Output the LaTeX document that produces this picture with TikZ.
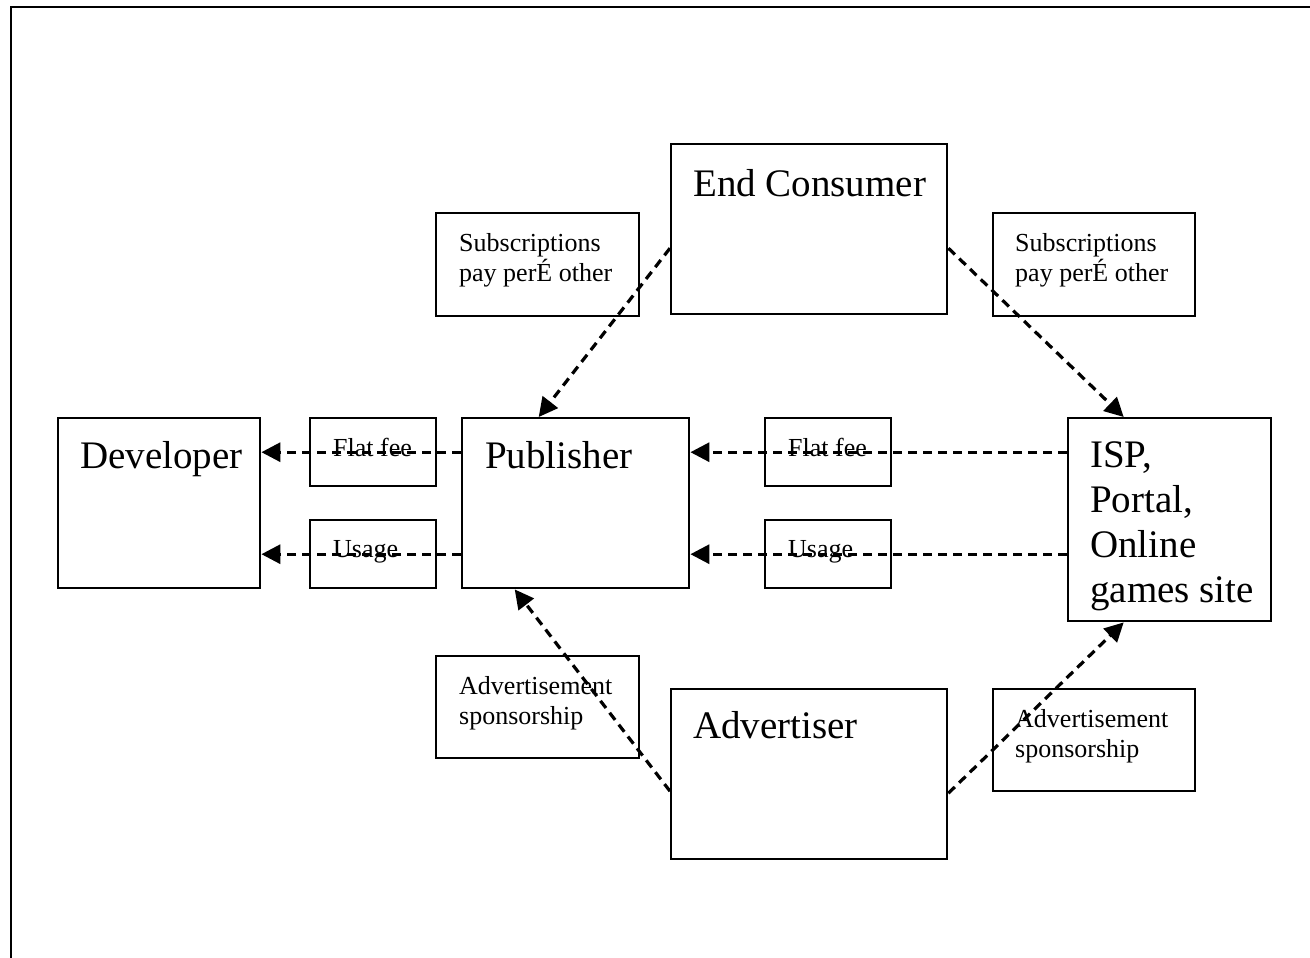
\documentclass[tikz,border=0pt]{standalone}
\usepackage{fontspec}
\setmainfont{Liberation Serif}
\usetikzlibrary{arrows.meta,positioning}

\def\bigtxt{\fontsize{39}{45}\selectfont}
\def\smalltxt{\fontsize{26}{30}\selectfont}

\tikzset{
  box/.style={draw, line width=2.4pt, rectangle, inner sep=0pt, anchor=north west},
  txt/.style={anchor=north west, inner sep=0pt, align=left},
  flow/.style={line width=3.2pt, dash pattern=on 9pt off 6pt, -{Triangle[length=19pt,width=19pt]}}
}

\begin{document}
\begin{tikzpicture}[x=1pt,y=-1pt]
\useasboundingbox (0,0) rectangle (1310,958);

% page frame (only top and left edge show)
\draw[line width=2.6pt] (1310,7) -- (11,7) -- (11,958);

%% main parties
\node[box, minimum width=202, minimum height=170] (dev) at (57,417) {};
\node[box, minimum width=227, minimum height=170] (pub) at (461,417) {};
\node[box, minimum width=203, minimum height=203] (isp) at (1067,417) {};
\node[box, minimum width=276, minimum height=170] (ec) at (670,143) {};
\node[box, minimum width=276, minimum height=170] (adv) at (670,688) {};

\node[txt, font=\bigtxt] (devtxt) at ([xshift=23pt,yshift=-24pt]dev.north west) {Developer};
\node[txt, font=\bigtxt] (pubtxt) at ([xshift=24pt,yshift=-24pt]pub.north west) {Publisher};
\node[txt, font=\bigtxt] (isptxt) at ([xshift=23pt,yshift=-24pt]isp.north west) {ISP,\\Portal,\\Online\\games site};
\node[txt, font=\bigtxt] (ectxt) at ([xshift=23pt,yshift=-26pt]ec.north west) {End Consumer};
\node[txt, font=\bigtxt] (advtxt) at ([xshift=23pt,yshift=-23pt]adv.north west) {Advertiser};

%% payment labels
\node[box, minimum width=203, minimum height=103] (subl) at (435,212) {};
\node[box, minimum width=202, minimum height=103] (subr) at (992,212) {};
\node[box, minimum width=126, minimum height=68] (flatl) at (309,417) {};
\node[box, minimum width=126, minimum height=68] (usel) at (309,519) {};
\node[box, minimum width=126, minimum height=68] (flatr) at (764,417) {};
\node[box, minimum width=126, minimum height=68] (user) at (764,519) {};
\node[box, minimum width=203, minimum height=102] (advl) at (435,655) {};
\node[box, minimum width=202, minimum height=102] (advr) at (992,688) {};

\node[txt, font=\smalltxt] (subltxt) at ([xshift=24pt,yshift=-21pt]subl.north west) {Subscriptions\\pay perÉ other};
\node[txt, font=\smalltxt] (subrtxt) at ([xshift=23pt,yshift=-21pt]subr.north west) {Subscriptions\\pay perÉ other};
\node[txt, font=\smalltxt] (flatltxt) at ([xshift=24pt,yshift=-21pt]flatl.north west) {Flat fee};
\node[txt, font=\smalltxt] (useltxt) at ([xshift=24pt,yshift=-21pt]usel.north west) {Usage};
\node[txt, font=\smalltxt] (flatrtxt) at ([xshift=24pt,yshift=-21pt]flatr.north west) {Flat fee};
\node[txt, font=\smalltxt] (usertxt) at ([xshift=24pt,yshift=-21pt]user.north west) {Usage};
\node[txt, font=\smalltxt] (advltxt) at ([xshift=24pt,yshift=-21pt]advl.north west) {Advertisement\\sponsorship};
\node[txt, font=\smalltxt] (advrtxt) at ([xshift=23pt,yshift=-21pt]advr.north west) {Advertisement\\sponsorship};

%% money flows
\draw[flow] ([yshift=51pt]pub.west) -- ([yshift=51pt]dev.east);
\draw[flow] ([yshift=-51pt]pub.west) -- ([yshift=-51pt]dev.east);
\draw[flow] ([yshift=67.5pt]isp.west) -- ([yshift=51pt]pub.east);
\draw[flow] ([yshift=-34.5pt]isp.west) -- ([yshift=-51pt]pub.east);
% consumer pays
\draw[flow] ([yshift=-19pt]ec.west) -- ([xshift=-37pt]pub.north);
\draw[flow] ([yshift=-19pt]ec.east) -- ([xshift=-46pt]isp.north);
% advertiser pays
\draw[flow] ([yshift=-17pt]adv.west) -- ([xshift=-61pt]pub.south);
\draw[flow] ([yshift=-19pt]adv.east) -- ([xshift=-46pt]isp.south);

\end{tikzpicture}
\end{document}
